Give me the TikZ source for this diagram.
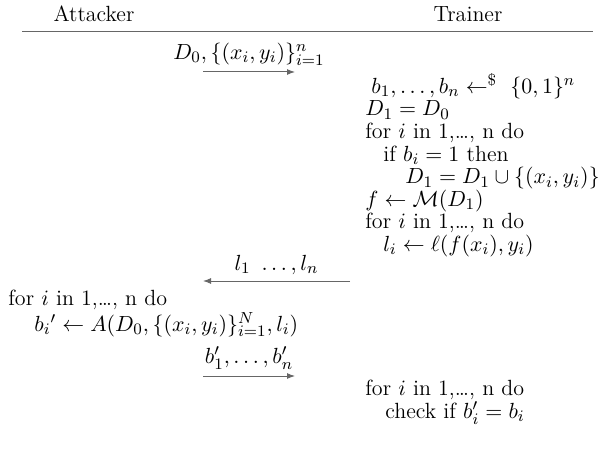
\documentclass[tikz,border=0pt]{standalone}
\usetikzlibrary{positioning, arrows.meta}

\begin{document}
\begin{tikzpicture}[
  x=0.5pt, y=-0.5pt,
  every node/.style={font=\fontsize{11}{11.3}\selectfont, inner sep=0pt},
  party/.style={anchor=base},
  block/.style={anchor=north west, align=left},
  msg/.style={-{Latex[length=4pt,width=3pt]}, draw=black!60, line width=0.5pt},
  msglabel/.style={above=3pt}
]
\useasboundingbox (0,0) rectangle (613,453);

% ---- Parties ----
\node[party] (attacker) at (94, 22) {Attacker};
\node[party] (trainer) at (468, 22) {Trainer};
\coordinate (ruleL) at (22, 32);
\coordinate (ruleR) at (593, 32);
\draw[black!60, line width=0.5pt] (ruleL) -- (ruleR);

% ---- Message 1: attacker to trainer ----
\coordinate (m1s) at (203, 72);
\coordinate (m1e) at (295, 72);
\draw[msg] (m1s) -- node[msglabel] {$D_0,\{(x_i,y_i)\}_{i=1}^{n}$} (m1e);

% ---- Trainer: sampling and training ----
\node[block] (train) at (365, 73) {%
  \hspace{3pt}$b_1,\ldots,b_n \leftarrow^{\$}\ \{0,1\}^n$\\
  $D_1 = D_0$\\
  for $i$ in 1,\ldots, n do\\
  \hspace{9pt}if $b_i = 1$ then\\
  \hspace{20pt}$D_1 = D_1 \cup \{(x_i,y_i)\}$\\
  $f \leftarrow \mathcal{M}(D_1)$\\
  for $i$ in 1,\ldots, n do\\
  \hspace{9pt}$l_i \leftarrow \ell(f(x_i),y_i)$};

% ---- Message 2: losses back to attacker ----
\coordinate (m2s) at (350, 281);
\coordinate (m2e) at (203, 281);
\draw[msg] (m2s) -- node[msglabel] {$l_1\ \ldots, l_n$} (m2e);

% ---- Attacker: guessing ----
\node[block] (guess) at (8, 290) {%
  for $i$ in 1,\ldots, n do\\
  \hspace{13pt}$b_i{}' \leftarrow A(D_0,\{(x_i,y_i)\}_{i=1}^{N}, l_i)$};

% ---- Message 3: guesses to trainer ----
\coordinate (m3s) at (203, 376);
\coordinate (m3e) at (295, 376);
\draw[msg] (m3s) -- node[msglabel] {$b_1',\ldots,b_n'$} (m3e);

% ---- Trainer: check ----
\node[block] (check) at (365, 380) {%
  for $i$ in 1,\ldots, n do\\
  \hspace{10pt}check if $b_i' = b_i$};

\end{tikzpicture}
\end{document}
